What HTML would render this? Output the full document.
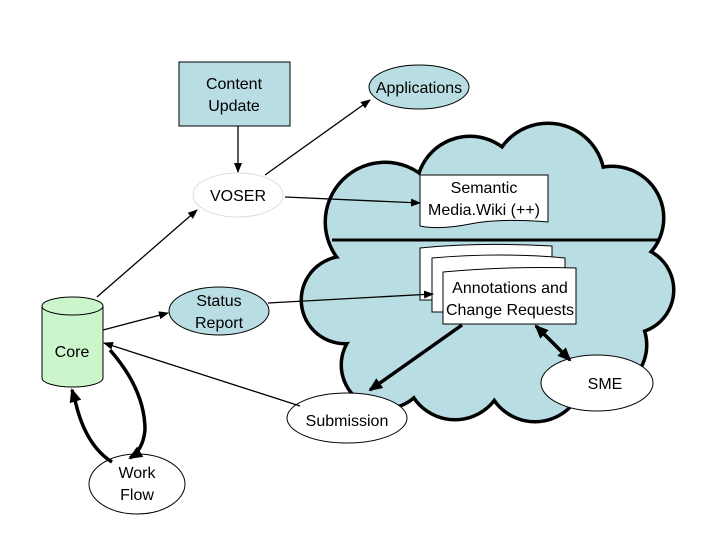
<!DOCTYPE html>
<html><head><style>
body{margin:0;background:#fff}
svg text{font-family:"Liberation Sans",Arial,sans-serif;font-size:16px;fill:#000}
</style></head><body>
<svg width="720" height="540" viewBox="0 0 720 540" xmlns="http://www.w3.org/2000/svg">
<defs>
<marker id="a" markerWidth="10" markerHeight="8" refX="9" refY="4" orient="auto" markerUnits="userSpaceOnUse"><path d="M0,0 L10,4 L0,8 z" fill="#000"/></marker>
<marker id="b" markerWidth="14" markerHeight="12" refX="12" refY="6" orient="auto" markerUnits="userSpaceOnUse"><path d="M0,0 L14,6 L0,12 z" fill="#000"/></marker>
<marker id="bs" markerWidth="14" markerHeight="12" refX="2" refY="6" orient="auto" markerUnits="userSpaceOnUse"><path d="M14,0 L0,6 L14,12 z" fill="#000"/></marker>
</defs>
<!-- cloud -->
<g stroke="#000" stroke-width="7" fill="#000">
<circle cx="385" cy="222" r="58"/><circle cx="470" cy="190" r="52"/><circle cx="548" cy="180" r="55"/><circle cx="612" cy="218" r="50"/>
<circle cx="630" cy="290" r="42"/><circle cx="600" cy="345" r="45"/><circle cx="535" cy="372" r="48"/><circle cx="455" cy="370" r="48"/>
<circle cx="385" cy="365" r="42"/><circle cx="345" cy="300" r="42"/>
</g>
<g fill="#b8dde3">
<circle cx="385" cy="222" r="58"/><circle cx="470" cy="190" r="52"/><circle cx="548" cy="180" r="55"/><circle cx="612" cy="218" r="50"/>
<circle cx="630" cy="290" r="42"/><circle cx="600" cy="345" r="45"/><circle cx="535" cy="372" r="48"/><circle cx="455" cy="370" r="48"/>
<circle cx="385" cy="365" r="42"/><circle cx="345" cy="300" r="42"/>
<rect x="360" y="190" width="270" height="180"/>
</g>
<line x1="332" y1="240" x2="660" y2="240" stroke="#000" stroke-width="3"/>
<!-- SMW -->
<path d="M420,175 H548 V222 Q500,218 470,224 Q440,230 420,226 Z" fill="#fff" stroke="#000" stroke-width="1"/>
<text x="484" y="193" text-anchor="middle">Semantic</text>
<text x="484" y="215" text-anchor="middle">Media.Wiki (++)</text>
<!-- annotations stack -->
<path d="M420,248 Q480,242 552,246 V300 H420 Z" fill="#fff" stroke="#000"/>
<path d="M432,258 Q500,252 565,258 V312 H432 Z" fill="#fff" stroke="#000"/>
<path d="M443,272 Q510,266 576,268 V324 H443 Z" fill="#fff" stroke="#000"/>
<text x="510" y="293" text-anchor="middle">Annotations and</text>
<text x="510" y="315" text-anchor="middle">Change Requests</text>
<!-- content update -->
<rect x="179" y="62" width="111" height="64" fill="#b8dde3" stroke="#000"/>
<text x="234" y="89" text-anchor="middle">Content</text>
<text x="234" y="111" text-anchor="middle">Update</text>
<ellipse cx="419" cy="87" rx="50" ry="22" fill="#b8dde3" stroke="#000"/>
<text x="419" y="93" text-anchor="middle">Applications</text>
<ellipse cx="238" cy="195" rx="45" ry="22" fill="#fff" stroke="#ddd"/>
<text x="238" y="201" text-anchor="middle">VOSER</text>
<ellipse cx="219" cy="311" rx="50" ry="24" fill="#b8dde3" stroke="#000"/>
<text x="219" y="306" text-anchor="middle">Status</text>
<text x="219" y="328" text-anchor="middle">Report</text>
<ellipse cx="347" cy="418" rx="60" ry="25" fill="#fff" stroke="#000"/>
<text x="347" y="426" text-anchor="middle">Submission</text>
<ellipse cx="597" cy="383" rx="56" ry="28" fill="#fff" stroke="#000"/>
<text x="605" y="389" text-anchor="middle">SME</text>
<ellipse cx="137" cy="484" rx="48" ry="30" fill="#fff" stroke="#000"/>
<text x="137" y="478" text-anchor="middle">Work</text>
<text x="137" y="500" text-anchor="middle">Flow</text>
<!-- core cylinder -->
<path d="M42,306 V378 A30.5,9 0 0 0 103,378 V306" fill="#ccf5cc" stroke="#000"/>
<ellipse cx="72.5" cy="306" rx="30.5" ry="9" fill="#ccf5cc" stroke="#000"/>
<text x="72" y="357" text-anchor="middle">Core</text>
<!-- connectors -->
<g stroke="#000" stroke-width="1.3" fill="none" marker-end="url(#a)">
<line x1="238" y1="126" x2="238" y2="172"/>
<line x1="265" y1="175" x2="370" y2="100"/>
<line x1="97" y1="297" x2="197" y2="210"/>
<line x1="285" y1="197" x2="420" y2="203"/>
<line x1="103" y1="330" x2="168" y2="313"/>
<line x1="268" y1="303" x2="433" y2="294"/>
<line x1="300" y1="406" x2="104" y2="343"/>
</g>
<g stroke="#000" stroke-width="3.5" fill="none">
<line x1="462" y1="325" x2="370" y2="390" marker-end="url(#b)"/>
<line x1="536" y1="326" x2="570" y2="360" marker-end="url(#b)" marker-start="url(#bs)"/>
<path d="M110,350 Q145,390 145,430 Q143,450 130,458" marker-end="url(#b)"/>
<path d="M112,462 Q85,445 75,400 L72,390" marker-end="url(#b)"/>
</g>
</svg>
</body></html>
